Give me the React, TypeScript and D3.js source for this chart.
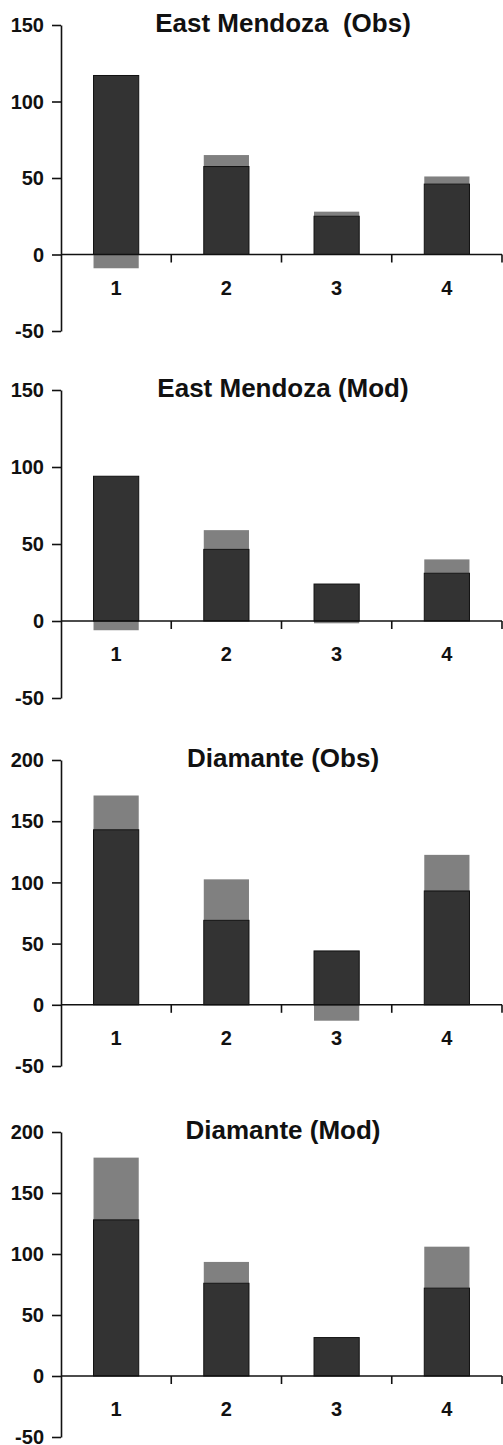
import { useEffect, useRef } from "react";
import * as d3 from "d3";

// categories on the x axis
const categories = ["1", "2", "3", "4"];

const panelTitles = [
  "East Mendoza  (Obs)",
  "East Mendoza (Mod)",
  "Diamante (Obs)",
  "Diamante (Mod)",
];

// dark (lower) part of each bar
const eastObsDark = [117, 57.5, 25, 46];
const eastModDark = [94, 46.5, 24, 31];
const diamObsDark = [143, 69, 44, 93];
const diamModDark = [128, 76, 31.5, 72];

// grey part (stacked on top when positive, below zero when negative)
const eastObsGrey = [-9, 7.5, 3, 5];
const eastModGrey = [-6, 12.5, -1.5, 9];
const diamObsGrey = [28, 33.5, -13, 29.5];
const diamModGrey = [51, 17.5, 0, 34];

const smallTicks = [-50, 0, 50, 100, 150];
const bigTicks = [-50, 0, 50, 100, 150, 200];

const panels = [
  { title: panelTitles[0], dark: eastObsDark, grey: eastObsGrey, ticks: smallTicks },
  { title: panelTitles[1], dark: eastModDark, grey: eastModGrey, ticks: smallTicks },
  { title: panelTitles[2], dark: diamObsDark, grey: diamObsGrey, ticks: bigTicks },
  { title: panelTitles[3], dark: diamModDark, grey: diamModGrey, ticks: bigTicks },
];

// pixel frame of each panel: top tick y, bottom tick y
const frames = [
  { top: 25, bottom: 331 },
  { top: 390, bottom: 698 },
  { top: 760, bottom: 1066 },
  { top: 1132, bottom: 1437 },
];

const W = 503;
const H = 1445;
const FONT = "'Liberation Sans', Arial, Helvetica, sans-serif";

export default function App() {
  const ref = useRef<SVGSVGElement>(null);

  useEffect(() => {
    const svg = d3.select(ref.current);
    svg.selectAll("*").remove();

    const left = 61;
    const right = 502;

    const x = d3
      .scaleBand<string>()
      .domain(categories)
      .range([left, right])
      .paddingInner(0.59)
      .paddingOuter(0.295);

    panels.forEach((p, i) => {
      const f = frames[i];
      const y = d3
        .scaleLinear()
        .domain([d3.min(p.ticks)!, d3.max(p.ticks)!])
        .range([f.bottom, f.top]);

      const g = svg.append("g");

      const rows = categories.map((c, j) => ({ cat: c, dark: p.dark[j], grey: p.grey[j] }));
      const stacked = d3
        .stack<any>()
        .keys(["dark", "grey"])
        .offset(d3.stackOffsetDiverging)(rows);

      // grey first, then dark on top with its outline
      const colors: Record<string, string> = { dark: "#333333", grey: "#808080" };
      [stacked[1], stacked[0]].forEach((layer) => {
        g.append("g")
          .selectAll("rect")
          .data(layer)
          .join("rect")
          .attr("x", (d: any) => x(d.data.cat)!)
          .attr("width", x.bandwidth())
          .attr("y", (d) => y(Math.max(d[0], d[1])))
          .attr("height", (d) => Math.abs(y(d[0]) - y(d[1])))
          .attr("fill", colors[layer.key])
          .attr("stroke", layer.key === "dark" ? "#111" : "none")
          .attr("stroke-width", 1);
      });

      // y axis
      const yAxis = g
        .append("g")
        .attr("transform", `translate(${left},0)`)
        .call(
          d3
            .axisLeft(y)
            .tickValues(p.ticks)
            .tickFormat((d) => String(d))
            .tickSize(9)
            .tickPadding(8)
            .tickSizeOuter(0)
        );
      yAxis.select(".domain").attr("stroke", "#111").attr("stroke-width", 1.6);
      yAxis.selectAll(".tick line").attr("stroke", "#111").attr("stroke-width", 1.6);
      yAxis
        .selectAll("text")
        .attr("font-family", FONT)
        .attr("font-weight", "bold")
        .attr("font-size", 20)
        .attr("fill", "#111")
        .attr("dy", "0.33em");

      // x axis at zero
      const y0 = y(0);
      g.append("line")
        .attr("x1", left)
        .attr("x2", right)
        .attr("y1", y0)
        .attr("y2", y0)
        .attr("stroke", "#111")
        .attr("stroke-width", 1.6);

      const bounds = categories.map((_, j) => left + (j + 1) * x.step());
      g.selectAll("line.xt")
        .data(bounds)
        .join("line")
        .attr("class", "xt")
        .attr("x1", (d) => d)
        .attr("x2", (d) => d)
        .attr("y1", y0)
        .attr("y2", y0 + 8)
        .attr("stroke", "#111")
        .attr("stroke-width", 1.6);

      g.selectAll("text.xl")
        .data(categories)
        .join("text")
        .attr("class", "xl")
        .attr("x", (d) => x(d)! + x.bandwidth() / 2)
        .attr("y", y0 + 40)
        .attr("text-anchor", "middle")
        .attr("font-family", FONT)
        .attr("font-weight", "bold")
        .attr("font-size", 20)
        .attr("fill", "#111")
        .text((d) => d);

      g.append("text")
        .attr("x", 283)
        .attr("y", f.top + 7)
        .attr("text-anchor", "middle")
        .attr("font-family", FONT)
        .attr("font-weight", "bold")
        .attr("font-size", 26)
        .attr("fill", "#111")
        .style("white-space", "pre")
        .text(p.title);
    });
  }, []);

  return (
    <svg
      ref={ref}
      width={W}
      height={H}
      style={{ position: "absolute", left: 0, top: 0, background: "#fff" }}
    />
  );
}
